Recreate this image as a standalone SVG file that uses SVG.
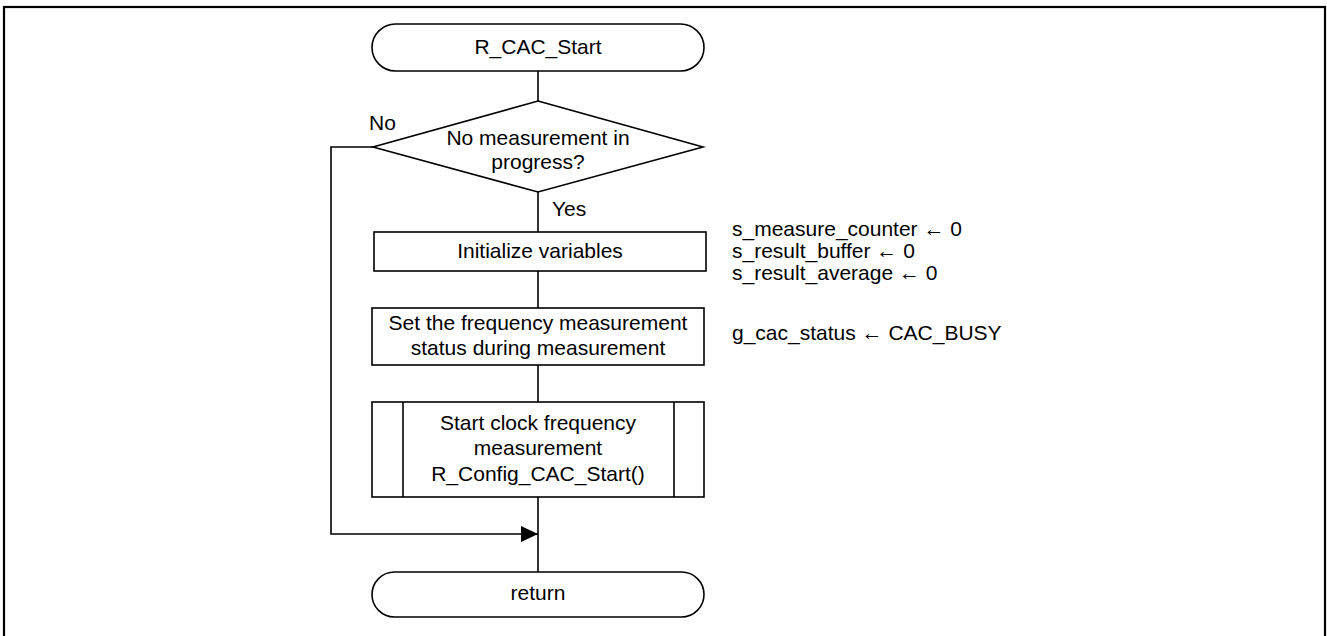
<svg xmlns="http://www.w3.org/2000/svg" width="1327" height="636" viewBox="0 0 1327 636">
<defs>
<style>
.s{fill:#fff;stroke:#000;stroke-width:1.6}
.c{fill:none;stroke:#000;stroke-width:1.6}
text{font-family:"Liberation Sans",Arial,sans-serif;font-size:21px;fill:#000}
.m{text-anchor:middle}
</style>
<marker id="ah" markerWidth="18" markerHeight="16" refX="17" refY="8" orient="auto" markerUnits="userSpaceOnUse">
<path d="M0,0 L17,8 L0,16 Z" fill="#000"/>
</marker>
</defs>
<rect x="4" y="7" width="1321" height="640" fill="none" stroke="#000" stroke-width="2.2"/>
<g id="connectors">
<line class="c" x1="538" y1="71" x2="538" y2="101"/>
<line class="c" x1="538" y1="192" x2="538" y2="232"/>
<line class="c" x1="538" y1="271" x2="538" y2="308"/>
<line class="c" x1="538" y1="365" x2="538" y2="402"/>
<line class="c" x1="538" y1="497" x2="538" y2="572"/>
<polyline class="c" points="373,147 331,147 331,534 538,534" marker-end="url(#ah)"/>
<text x="369" y="130">No</text>
<text x="552" y="216">Yes</text>
</g>
<g id="start">
<rect class="s" x="372" y="24" width="332" height="47" rx="23.5"/>
<text class="m" x="538" y="54">R_CAC_Start</text>
</g>
<g id="decision">
<polygon class="s" points="538,101 703,147 538,192 373,147"/>
<text class="m" x="538" y="145">No measurement in</text>
<text class="m" x="538" y="169">progress?</text>
</g>
<g id="init">
<rect class="s" x="374" y="232" width="332" height="39"/>
<text class="m" x="540" y="258">Initialize variables</text>
</g>
<g id="init-note">
<text x="732" y="236">s_measure_counter ← 0</text>
<text x="732" y="258">s_result_buffer ← 0</text>
<text x="732" y="280">s_result_average ← 0</text>
</g>
<g id="status">
<rect class="s" x="372" y="308" width="332" height="57"/>
<text class="m" x="538" y="330">Set the frequency measurement</text>
<text class="m" x="538" y="355">status during measurement</text>
</g>
<g id="status-note">
<text x="732" y="340">g_cac_status ← CAC_BUSY</text>
</g>
<g id="sub">
<rect class="s" x="372" y="402" width="332" height="95"/>
<line class="c" x1="403" y1="402" x2="403" y2="497"/>
<line class="c" x1="674" y1="402" x2="674" y2="497"/>
<text class="m" x="538" y="430">Start clock frequency</text>
<text class="m" x="538" y="455">measurement</text>
<text class="m" x="538" y="481">R_Config_CAC_Start()</text>
</g>
<g id="return">
<rect class="s" x="372" y="572" width="332" height="45" rx="22.5"/>
<text class="m" x="538" y="600">return</text>
</g>
</svg>
